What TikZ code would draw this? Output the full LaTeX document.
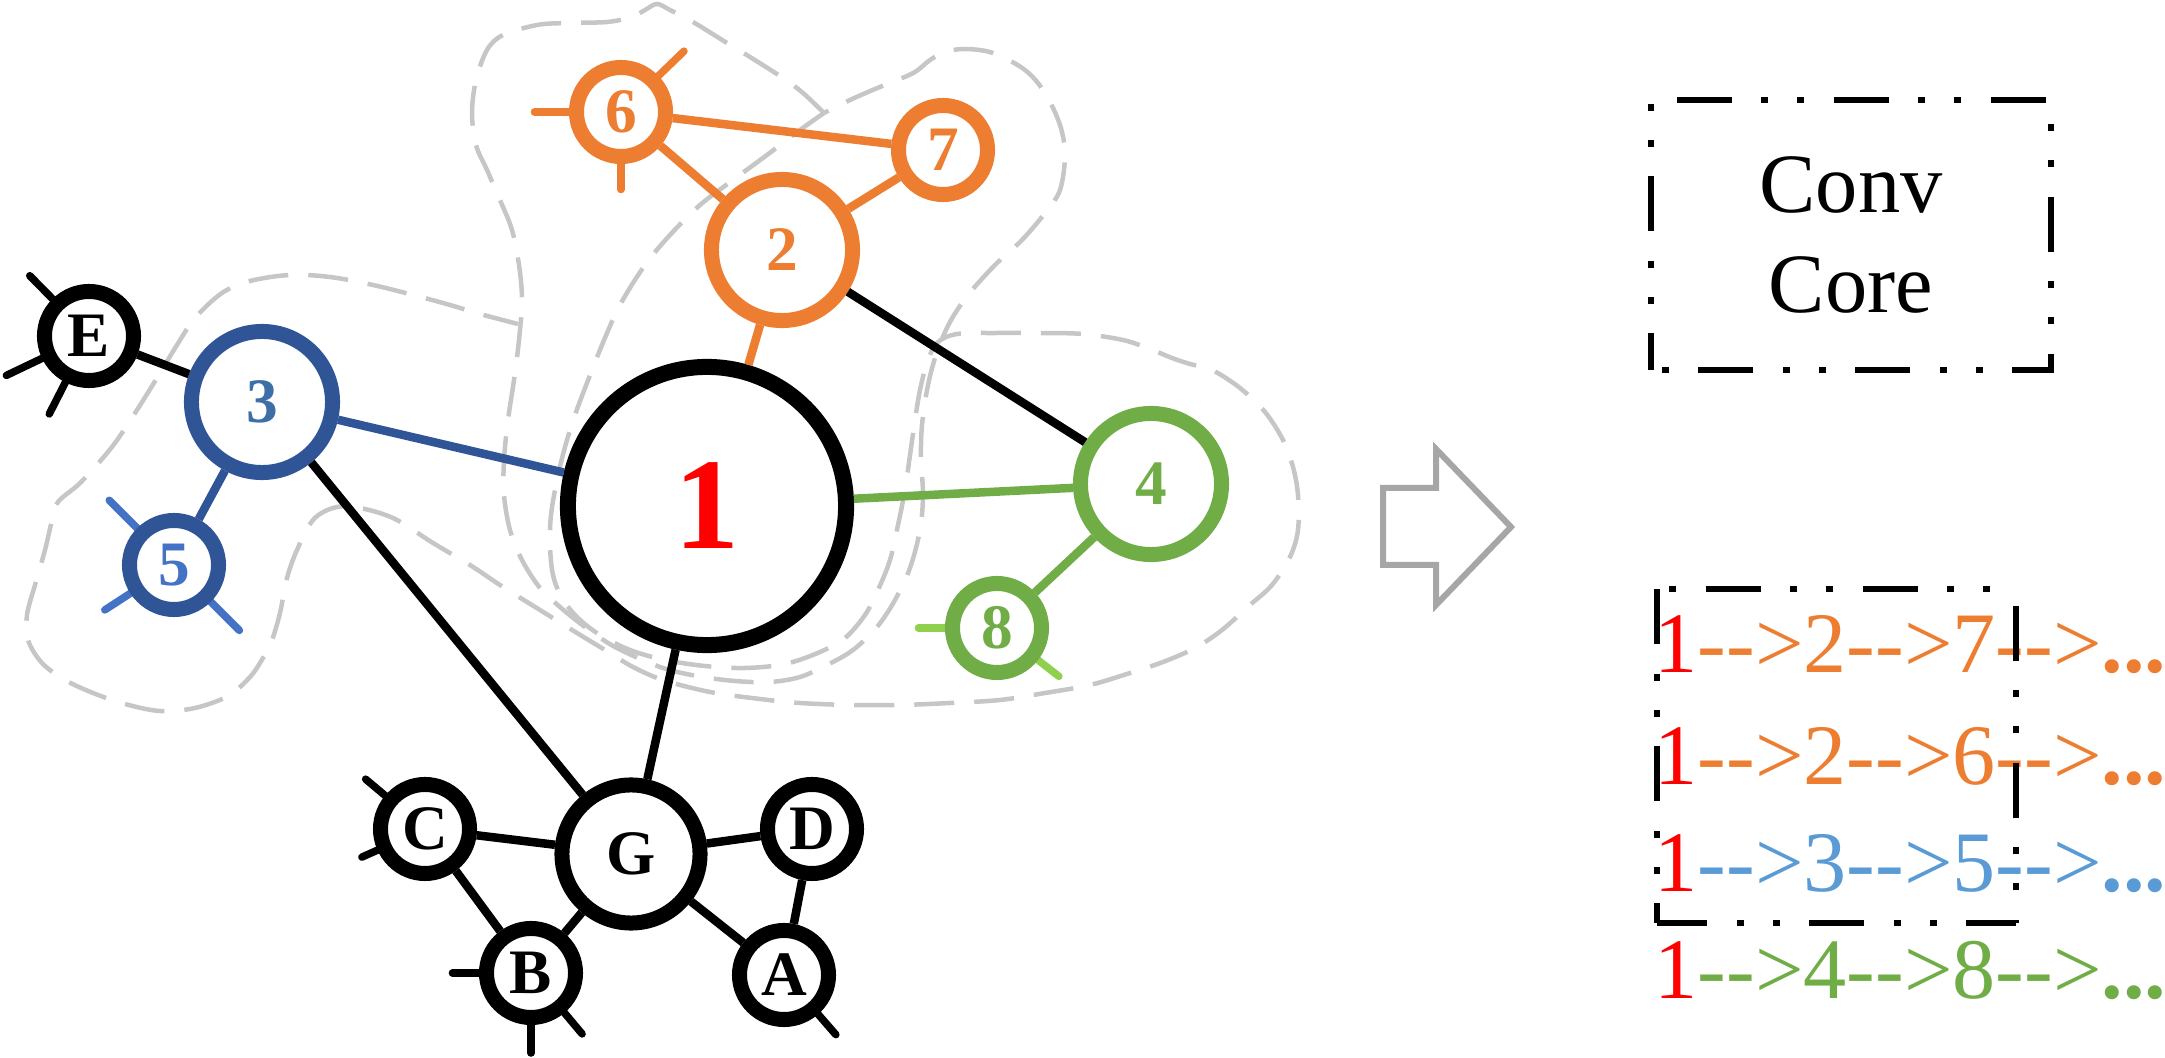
\documentclass[tikz,border=0pt]{standalone}
\usepackage{fontspec}
\setmainfont{Liberation Serif}
\newfontfamily\rowfont{Liberation Serif}[Ligatures=TeXOff]
\definecolor{cor}{HTML}{ED7D31}
\definecolor{cdb}{HTML}{2F5597}
\definecolor{clb}{HTML}{4472C4}
\definecolor{cthree}{HTML}{3E6EA6}
\definecolor{cgr}{HTML}{70AD47}
\definecolor{clg}{HTML}{8FD14F}
\definecolor{cgy}{RGB}{198,198,198}
\definecolor{carr}{HTML}{A6A6A6}
\definecolor{crow}{HTML}{5B9BD5}
\pgfdeclarelayer{bg}
\pgfsetlayers{bg,main}
\begin{document}
\begin{tikzpicture}[x=0.01cm,y=-0.01cm,
 ring/.style={circle,draw,fill=white,inner sep=0pt,line width=0.15cm,font=\fontsize{18}{18}\selectfont\bfseries},
 sm/.style={ring,minimum size=0.89cm},
 md/.style={ring,minimum size=1.41cm},
 edge/.style={line width=0.085cm},
 spoke/.style={line width=0.075cm,line cap=round},
 blob/.style={draw=cgy,line width=0.045cm,dash pattern=on 0.4cm off 0.2cm},
 ddash/.style={line width=0.058cm,dash pattern=on 0.55cm off 0.30cm on 0.07cm off 0.29cm on 0.07cm off 0.29cm},
 pathrow/.style={anchor=base west,inner sep=0pt,font=\rowfont\fontsize{24.5}{24.5}\selectfont}
]
\useasboundingbox (0,0) rectangle (2165,1058);

% nodes
\node[ring,minimum size=2.78cm,line width=0.16cm,text=red,font=\fontsize{37}{37}\selectfont\bfseries] (n1) at (707,506) {1};
\node[md,draw=cor,text=cor] (n2) at (782,250) {2};
\node[sm,draw=cor,text=cor] (n6) at (621,112) {6};
\node[sm,draw=cor,text=cor] (n7) at (943,150) {7};
\node[md,draw=cdb,text=cthree] (n3) at (262,402) {3};
\node[sm] (nE) at (89,336) {E};
\node[sm,draw=cdb,text=clb] (n5) at (174,565) {5};
\node[md,draw=cgr,text=cgr] (n4) at (1151,484) {4};
\node[sm,draw=cgr,text=cgr] (n8) at (997,628) {8};
\node[md,minimum size=1.38cm] (nG) at (631,854) {G};
\node[sm] (nC) at (425,829) {C};
\node[sm] (nD) at (812,829) {D};
\node[sm] (nB) at (531,973) {B};
\node[sm] (nA) at (784,975) {A};

\begin{pgfonlayer}{bg}
% receptive field outlines
\draw[blob] plot[smooth,tension=0.55] coordinates {(824,113) (803,93) (783,78) (750,57) (727,43) (693,22) (670,10) (657,4) (645,10) (632,17) (607,22) (567,23) (537,25) (503,35) (487,50) (476,80) (472,113) (476,145) (487,170) (500,200) (512,230) (519,265) (522,300) (519,340) (514,380) (508,420) (504,460) (504,495) (510,530) (522,560) (540,588) (560,607) (585,627) (615,647) (660,667) (697,676) (735,681) (770,682) (800,677) (827,665) (853,650) (877,627) (895,600) (910,568) (920,530) (923,495) (921,460) (922,425) (928,385) (937,352) (950,322) (968,295) (995,265) (1022,240) (1045,213) (1060,190) (1065,155) (1060,125) (1045,93) (1025,70) (993,53) (965,49) (945,52) (930,60) (915,72) (895,81) (875,89) (850,100) (824,113)};
\draw[blob] plot[smooth,tension=0.55] coordinates {(824,113) (800,130) (767,155) (733,180) (700,205) (670,235) (645,265) (620,305) (602,345) (587,383) (575,415) (565,447) (557,480) (551,515) (550,545) (553,575) (562,598) (578,618) (600,635) (630,650) (665,660) (705,666) (745,668) (785,664) (820,652) (845,638) (865,615) (878,590) (890,560) (898,525) (905,490) (910,455) (915,420) (920,390) (927,363) (937,343) (957,334) (997,333) (1040,333) (1083,334) (1123,340) (1150,349) (1172,358) (1190,364) (1212,370) (1240,388) (1265,412) (1283,440) (1293,467) (1298,495) (1298,530) (1290,557) (1272,585) (1250,605) (1222,630) (1195,648) (1163,662) (1130,673) (1090,685) (1045,693) (1000,700) (950,703) (900,705) (850,705) (800,703) (760,699) (710,692) (663,680) (633,667) (610,653) (577,633) (540,610) (503,587) (470,565) (433,543) (393,518) (355,507) (333,508) (313,520) (297,550) (287,578) (280,613) (272,640) (263,658) (250,677) (228,696) (195,708) (160,711) (125,704) (93,693) (65,680) (42,663) (28,640) (27,615) (35,585) (45,550) (52,520) (56,505) (63,497) (78,485) (95,467) (115,443) (137,410) (157,378) (177,345) (195,318) (222,293) (250,281) (290,275) (330,277) (373,285) (417,296) (450,305) (480,314) (518,324)};
% spokes
\draw[spoke] (nE.center) -- ++(134.5:0.845cm);
\draw[spoke] (nE.center) -- ++(205.5:0.915cm);
\draw[spoke] (nE.center) -- ++(243:0.875cm);
\draw[spoke,clb] (n5.center) -- ++(135:0.915cm);
\draw[spoke,clb] (n5.center) -- ++(213:0.825cm);
\draw[spoke,clb] (n5.center) -- ++(315:0.925cm);
\draw[spoke,cor] (n6.center) -- ++(180:0.865cm);
\draw[spoke,cor] (n6.center) -- ++(44:0.875cm);
\draw[spoke,cor] (n6.center) -- ++(270:0.775cm);
\draw[spoke,clg] (n8.center) -- ++(180:0.785cm);
\draw[spoke,clg] (n8.center) -- ++(322:0.785cm);
\draw[spoke] (nC.center) -- ++(140:0.775cm);
\draw[spoke] (nC.center) -- ++(204:0.69cm);
\draw[spoke] (nB.center) -- ++(180:0.785cm);
\draw[spoke] (nB.center) -- ++(270:0.80cm);
\draw[spoke] (nB.center) -- ++(310:0.795cm);
\draw[spoke] (nA.center) -- ++(311:0.79cm);
\end{pgfonlayer}

% edges
\draw[edge] (nE) -- (n3);
\draw[edge,cdb] (n3) -- (n1);
\draw[edge,cdb] (n3) -- (n5);
\draw[edge] (n3) -- (nG);
\draw[edge,cor] (n1) -- (n2);
\draw[edge,cor] (n2) -- (n6);
\draw[edge,cor] (n2) -- (n7);
\draw[edge,cor] (n6) -- (n7);
\draw[edge] (n2) -- (n4);
\draw[edge,cgr] (n1) -- (n4);
\draw[edge,cgr] (n4) -- (n8);
\draw[edge] (n1) -- (nG);
\draw[edge] (nG) -- (nC);
\draw[edge] (nG) -- (nD);
\draw[edge] (nG) -- (nB);
\draw[edge] (nG) -- (nA);
\draw[edge] (nC) -- (nB);
\draw[edge] (nD) -- (nA);

% block arrow
\draw[carr,line width=0.06cm,line join=miter] (1383,488) -- (1436,488) -- (1436,449) -- (1511,527) -- (1436,605) -- (1436,565) -- (1383,565) -- cycle;

% conv core box
\node[draw,ddash,dash phase=1.10cm,minimum width=4cm,minimum height=2.7cm,inner sep=0pt,align=center,font=\fontsize{24}{28.45}\selectfont] (conv) at (1851,235) {Conv\\Core};

% path rows
\node[pathrow] (r1) at (1654,673) {\textcolor{red}{1}\textcolor{cor}{-->2-->7-->\textbf{...}}};
\node[pathrow] (r2) at (1654,785) {\textcolor{red}{1}\textcolor{cor}{-->2-->6-->\textbf{...}}};
\node[pathrow] (r3) at (1654,892) {\textcolor{red}{1}\textcolor{crow}{-->3-->5-->\textbf{...}}};
\node[pathrow] (r4) at (1654,999) {\textcolor{red}{1}\textcolor{cgr}{-->4-->8-->\textbf{...}}};

% dash-dot frame round the first rows
\draw[ddash] (1657,589) -- (1657,923);
\draw[ddash,dash phase=0.05cm] (1657,923) -- (2016,923);
\draw[ddash,dash phase=0.525cm] (2016,923) -- (2016,589);
\draw[ddash,dash phase=0.595cm] (2016,589) -- (1657,589);
\end{tikzpicture}
\end{document}
